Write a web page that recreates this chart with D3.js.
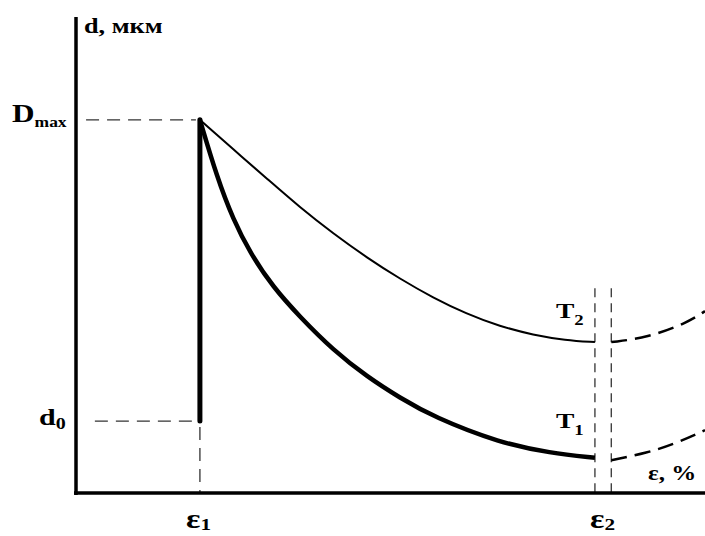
<!DOCTYPE html>
<html>
<head>
<meta charset="utf-8">
<script src="https://cdn.jsdelivr.net/npm/d3@7"></script>
<style>
  body { margin: 0; background: #fff; }
  text { font-family: "Liberation Serif", "Times New Roman", serif; font-weight: bold; fill: #000; }
</style>
</head>
<body>
<div id="chart"></div>
<script>
var w = 705;
var h = 536;

// strain (eps, %) and grain size (d, um), arbitrary units
var eps1 = 19.7;
var eps2 = [82.5, 85.1];
var dMax = 78.4;
var d0 = 15.1;

// T2 (thin) - solid part then dashed part
var t2Solid = [[19.7, 78.4], [25.0, 72.2], [30.4, 66.0], [35.6, 60.0], [40.9, 54.5],
  [46.3, 49.4], [51.5, 45.0], [56.8, 41.0], [62.0, 37.7], [67.4, 35.0],
  [72.7, 33.2], [77.8, 32.1], [82.5, 31.7]];
var t2Dash = [[85.1, 31.7], [90.8, 32.6], [97.1, 35.7], [100, 38.2]];

// T1 (thick)
var t1Solid = [[19.7, 78.4], [22.4, 66.4], [25.0, 57.4], [27.7, 50.4], [31.3, 43.3],
  [35.6, 37.0], [40.9, 30.0], [46.3, 24.4], [51.5, 20.0], [56.8, 16.0],
  [67.4, 10.5], [75.4, 8.4], [82.5, 7.4]];
var t1Dash = [[85.1, 6.9], [90.8, 8.4], [95.5, 10.5], [100, 13.2]];

var x = d3.scaleLinear().domain([0, 100]).range([76, 705]);
var y = d3.scaleLinear().domain([0, 100]).range([493, 17]);

var svg = d3.select("#chart").append("svg").attr("width", w).attr("height", h);

var line = d3.line()
  .x(function (d) { return x(d[0]); })
  .y(function (d) { return y(d[1]); })
  .curve(d3.curveBasis);

// dashed guide lines
var guide = svg.append("g")
  .attr("stroke", "#333")
  .attr("stroke-width", 1.3)
  .attr("stroke-dasharray", "13,8");

guide.append("line")
  .attr("x1", x(1.6)).attr("x2", x(eps1) - 4)
  .attr("y1", y(dMax)).attr("y2", y(dMax));
guide.append("line")
  .attr("x1", x(3)).attr("x2", x(eps1))
  .attr("y1", y(d0)).attr("y2", y(d0));
guide.append("line")
  .attr("x1", x(eps1)).attr("x2", x(eps1))
  .attr("y1", y(d0) + 6).attr("y2", y(0));
guide.selectAll(".e2")
  .data(eps2)
  .enter()
  .append("line")
  .attr("x1", (d) => x(d)).attr("x2", (d) => x(d))
  .attr("y1", y(43)).attr("y2", y(0))
  .attr("stroke-dasharray", "9,6");

// vertical jump at eps1
svg.append("line")
  .attr("x1", x(eps1)).attr("x2", x(eps1))
  .attr("y1", y(d0)).attr("y2", y(dMax))
  .attr("stroke", "#000")
  .attr("stroke-width", 5)
  .attr("stroke-linecap", "round");

// curves
svg.append("path").attr("d", line(t2Solid))
  .attr("fill", "none").attr("stroke", "#000").attr("stroke-width", 2);
svg.append("path").attr("d", line(t1Solid))
  .attr("fill", "none").attr("stroke", "#000").attr("stroke-width", 4.5);
svg.append("path").attr("d", line(t2Dash))
  .attr("fill", "none").attr("stroke", "#000").attr("stroke-width", 2.5)
  .attr("stroke-dasharray", "16,8");
svg.append("path").attr("d", line(t1Dash))
  .attr("fill", "none").attr("stroke", "#000").attr("stroke-width", 2.5)
  .attr("stroke-dasharray", "16,8");

// axes
svg.append("line")
  .attr("x1", x(0)).attr("x2", x(0))
  .attr("y1", y(100)).attr("y2", y(0) + 2)
  .attr("stroke", "#000").attr("stroke-width", 3.5);
svg.append("line")
  .attr("x1", x(0) - 2).attr("x2", x(100))
  .attr("y1", y(0)).attr("y2", y(0))
  .attr("stroke", "#000").attr("stroke-width", 3.5);

// labels (the original lettering is a bit stretched sideways)
function label(tx, ty, main, sub, size, subSize, dy) {
  var t = svg.append("text")
    .attr("transform", "translate(" + tx + "," + ty + ") scale(1.25,1)")
    .attr("font-size", size);
  t.append("tspan").text(main);
  if (sub) {
    t.append("tspan").attr("dy", dy).attr("font-size", subSize).text(sub);
  }
  return t;
}

label(84, 33, "d, мкм", null, 21);
label(12, 122, "D", "max", 25, 14, 5);
label(39, 425, "d", "0", 24, 16, 4);
label(186, 528, "ε", "1", 27, 17, 2);
label(590, 528, "ε", "2", 27, 17, 2);
label(648, 480, "ε, %", null, 20);
label(556, 318, "T", "2", 22, 15, 7);
label(556, 428, "T", "1", 22, 15, 7);
</script>
</body>
</html>
